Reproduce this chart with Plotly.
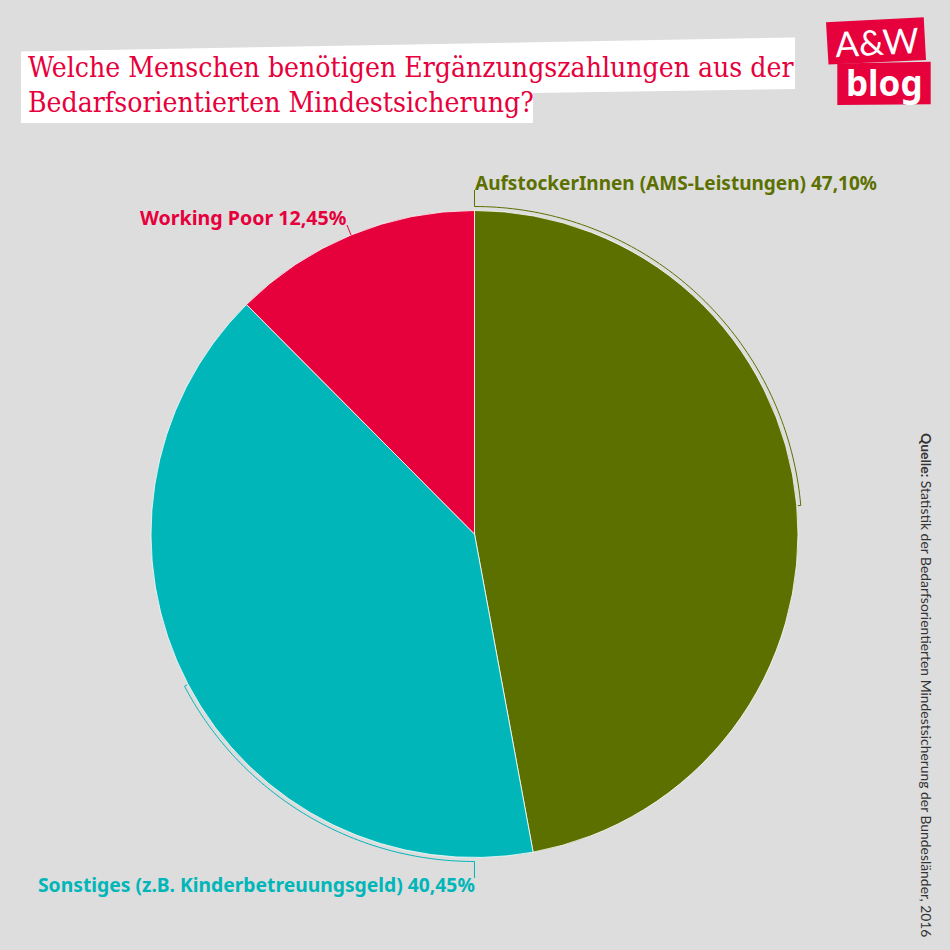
import numpy as np
import plotly.graph_objects as go

# ---------------------------------------------------------------------------
# Data
# ---------------------------------------------------------------------------
categories = ["AufstockerInnen (AMS-Leistungen)", "Sonstiges (z.B. Kinderbetreuungsgeld)", "Working Poor"]
shares = [47.10, 40.45, 12.45]
share_labels = ["47,10%", "40,45%", "12,45%"]
slice_colors = ["#5c7000", "#00b6b9", "#e6003c"]
title_lines = [
    "Welche Menschen benötigen Ergänzungszahlungen aus der",
    "Bedarfsorientierten Mindestsicherung?",
]
source_head = "Quelle:"
source_text = "Statistik der Bedarfsorientierten Mindestsicherung der Bundesländer, 2016"

SIZE = 950
BG = "#dddddd"
RED = "#e6003c"
CX, CY, R = 474.5, 534, 323.5
BRACKET_R = 327.5


def px(x):
    return x / SIZE


def py(y):
    return 1 - y / SIZE


def polygon(points):
    parts = [f"{'M' if i == 0 else 'L'} {px(x):.5f} {py(y):.5f}" for i, (x, y) in enumerate(points)]
    return " ".join(parts) + " Z"


def on_circle(angle, radius):
    # angle in degrees, clockwise from 12 o'clock
    a = np.radians(angle)
    return CX + radius * np.sin(a), CY - radius * np.cos(a)


def bracket(start, end, radius=BRACKET_R):
    pts = [on_circle(a, radius) for a in np.linspace(start, end, 90)]
    return pts


def open_path(points):
    return " ".join(f"{'M' if i == 0 else 'L'} {px(x):.5f} {py(y):.5f}" for i, (x, y) in enumerate(points))


fig = go.Figure(
    go.Pie(
        labels=categories,
        values=shares,
        sort=False,
        direction="clockwise",
        rotation=0,
        textinfo="none",
        hoverinfo="label+percent",
        showlegend=False,
        marker=dict(colors=slice_colors, line=dict(color="#ffffff", width=0.8)),
        domain=dict(x=[px(CX - R), px(CX + R)], y=[py(CY + R), py(CY - R)]),
    )
)

# white title band and logo blocks
shapes = [
    dict(type="path", xref="paper", yref="paper", line_width=0, fillcolor="#ffffff",
         path=polygon([(21, 51.5), (795, 37.5), (795, 89), (533, 93), (533, 123), (21, 123)])),
    dict(type="path", xref="paper", yref="paper", line_width=0, fillcolor=RED,
         path=polygon([(826, 22.3), (923.7, 17.3), (926, 60), (828.5, 64.5)])),
    dict(type="path", xref="paper", yref="paper", line_width=0, fillcolor=RED,
         path=polygon([(837.3, 63.5), (930.7, 61.7), (930.7, 104.3), (837.3, 105)])),
]

# label brackets hugging the pie
green_arc = [(CX, 190)] + bracket(0, 85) + [on_circle(85, R + 1)]
teal_arc = [(CX, 878)] + bracket(180, 242.3) + [on_circle(242.3, R + 1)]
shapes.append(dict(type="path", xref="paper", yref="paper", path=open_path(green_arc),
                   line=dict(color=slice_colors[0], width=1)))
shapes.append(dict(type="path", xref="paper", yref="paper", path=open_path(teal_arc),
                   line=dict(color=slice_colors[1], width=1)))
shapes.append(dict(type="line", xref="paper", yref="paper", x0=px(347), y0=py(225), x1=px(351), y1=py(235),
                   line=dict(color=slice_colors[2], width=1)))


def note(x, y, text, size, color, family, xanchor="left", angle=0):
    fig.add_annotation(
        x=px(x), y=py(y), xref="paper", yref="paper", text=text, showarrow=False,
        xanchor=xanchor, yanchor="middle", textangle=angle, borderpad=0,
        font=dict(size=size, color=color, family=family),
    )


TITLE_FONT = "DejaVu Serif Condensed"
LABEL_FONT = "Noto Sans"
note(27, 67.5, title_lines[0], 28.1, RED, TITLE_FONT)
note(27, 102.5, title_lines[1], 28.1, RED, TITLE_FONT)

note(474, 183, f"<b>{categories[0]} {share_labels[0]}</b>", 19, slice_colors[0], LABEL_FONT)
note(37, 884, f"<b>{categories[1]} {share_labels[1]}</b>", 19.3, slice_colors[1], LABEL_FONT)
note(139, 218, f"<b>{categories[2]} {share_labels[2]}</b>", 19.6, slice_colors[2], LABEL_FONT)

fig.add_annotation(
    x=px(927), y=py(432), xref="paper", yref="paper", showarrow=False, textangle=90,
    xanchor="center", yanchor="top", borderpad=0,
    text=f"<b>{source_head}</b> {source_text}",
    font=dict(size=13.9, color="#333333", family="Lato"),
)

# logo text
note(877, 41, "A&W", 35, "#ffffff", "Lato", xanchor="center", angle=-3)
note(884, 83, "<b>blog</b>", 35, "#ffffff", "Noto Sans", xanchor="center")

fig.update_layout(
    width=SIZE,
    height=SIZE,
    margin=dict(l=0, r=0, t=0, b=0),
    paper_bgcolor=BG,
    plot_bgcolor=BG,
    shapes=shapes,
)

fig.write_html("out.html", config={"displayModeBar": False}, post_script="document.body.style.margin='0';")
